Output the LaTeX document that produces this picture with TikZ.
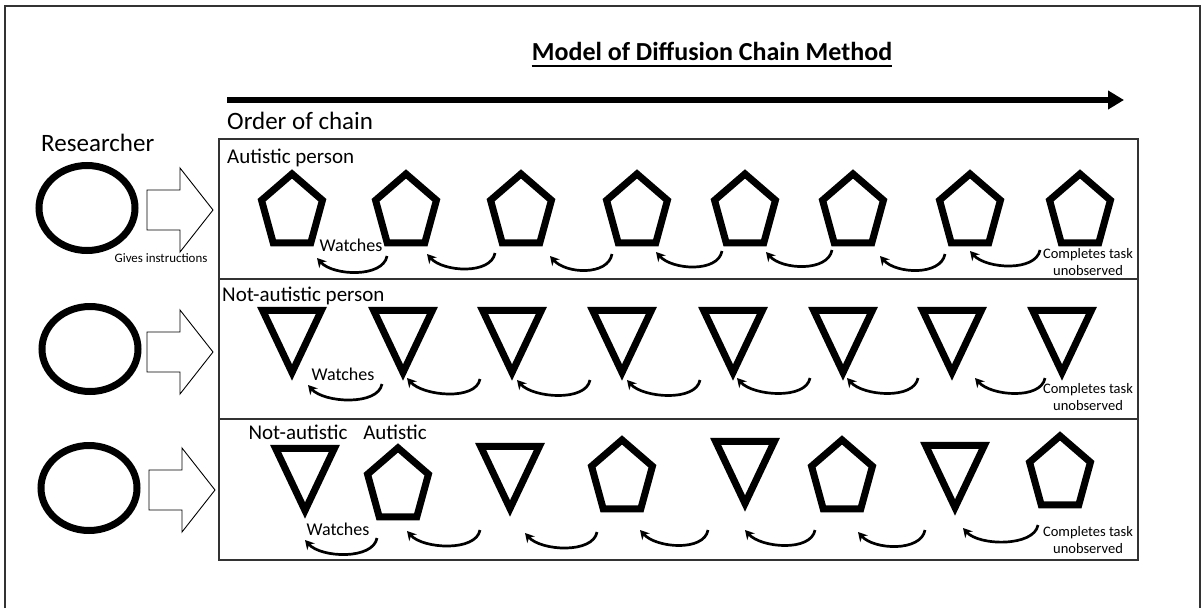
\documentclass[tikz,border=0pt]{standalone}
\usepackage{fontspec}
\setmainfont{Carlito}
\usetikzlibrary{arrows.meta,shapes.geometric}
\begin{document}
\begin{tikzpicture}[x=1pt,y=-1pt,
  frameline/.style={draw=black!80,line width=1.4pt},
  pent/.style={regular polygon, regular polygon sides=5, draw, line width=7pt, minimum size=64pt, inner sep=0pt, transform shape, yscale=1.19},
  tri/.style={regular polygon, regular polygon sides=3, shape border rotate=180, draw, line width=7pt, minimum size=68pt, inner sep=0pt, transform shape, yscale=1.22},
  person/.style={draw, line width=7pt, ellipse, minimum width=96pt, minimum height=85pt, inner sep=0pt},
  blockarrow/.style={draw, line width=0.9pt, line join=miter},
  watch/.style={line width=2.7pt, -{Stealth[length=9pt,width=10pt]}},
  lbl/.style={font=\fontsize{21}{24}\selectfont, inner sep=0pt},
  small/.style={font=\fontsize{14.5}{17.5}\selectfont, inner sep=0pt, align=center},
  wtxt/.style={font=\fontsize{18}{20}\selectfont, inner sep=0pt},
  bp/.pic={\path[blockarrow] (-66,-20) -- (-33,-20) -- (-33,-42) -- (0,0) -- (-33,42) -- (-33,20) -- (-66,20) -- cycle;}
]
\useasboundingbox (0,0) rectangle (1202,608);
\fill[white] (0,0) rectangle (1202,608);
% outer frame
\draw[frameline] (5,608) -- (5,6) -- (1200,6) -- (1200,608);
% title
\node[font=\bfseries\fontsize{26}{30}\selectfont, inner sep=0pt, anchor=base] (title) at (712,60) {Model of Diffusion Chain Method};
\draw[line width=2pt] ([yshift=-6pt]title.base west) -- ([yshift=-6pt]title.base east);
% order arrow
\coordinate (oa) at (227,100);
\coordinate (ob) at (1124,100);
\draw[line width=5.5pt, -{Triangle[length=16pt,width=18pt]}] (oa) -- (ob);
\node[font=\fontsize{25}{28}\selectfont, inner sep=0pt, anchor=base west] (order) at (227,129) {Order of chain};
\node[font=\fontsize{25}{28}\selectfont, inner sep=0pt, anchor=base west] (res) at (41,151) {Researcher};
% row boxes
\draw[frameline] (219,139) rectangle (1138,560);
\draw[frameline] (219,279) -- (1138,279);
\draw[frameline] (219,419) -- (1138,419);
% researchers
\node[person] (r1) at (87,208) {};
\node[person] (r2) at (90,349) {};
\node[person] (r3) at (89,488) {};
\pic at (213,210) {bp};
\pic at (213,352) {bp};
\pic at (215,490) {bp};
\node[font=\fontsize{12.9}{15}\selectfont, inner sep=0pt] (gi) at (161,258) {Gives instructions};
% labels
\node[lbl, anchor=west] (l1) at (227,158) {Autistic person};
\node[lbl, anchor=west] (l2) at (222,296) {Not-autistic person};
\node[lbl] (l3a) at (298,432) {Not-autistic};
\node[lbl] (l3b) at (395,432) {Autistic};
% row 1
\foreach \x [count=\i] in {292,406,521,637,745,853,970,1080}
  \node[pent] (a\i) at (\x,212) {};
% row 2
\foreach \x [count=\i] in {292,403,512,622,733,843,952,1062}
  \node[tri] (b\i) at (\x,331) {};
% row 3
\node[tri]  (c1) at (305,469) {};
\node[pent] (c2) at (398,486) {};
\node[tri]  (c3) at (510,467) {};
\node[pent] (c4) at (622,478) {};
\node[tri]  (c5) at (745,462) {};
\node[pent] (c6) at (842,478) {};
\node[tri]  (c7) at (955,466) {};
\node[pent] (c8) at (1060,474) {};
% watch arrows
\foreach \lx/\ly/\rx/\ry [count=\i] in {317/258/387/256, 427/254/495/253, 550/256/612/254, 656/252/722/251, 766/252/832/250, 880/256/945/254, 970/251/1040/250}{
  \coordinate (aL\i) at (\lx,\ly); \coordinate (aR\i) at (\rx,\ry);
  \draw[watch] (aR\i) .. controls +(-4,22) and +(16,18) .. (aL\i);}
\foreach \lx/\ly/\rx/\ry [count=\i] in {308/385/382/384, 407/378/480/379, 517/380/590/380, 627/380/700/380, 737/378/810/378, 847/378/918/378, 975/378/1045/378}{
  \coordinate (bL\i) at (\lx,\ly); \coordinate (bR\i) at (\rx,\ry);
  \draw[watch] (bR\i) .. controls +(-4,22) and +(16,18) .. (bL\i);}
\foreach \lx/\ly/\rx/\ry [count=\i] in {305/540/377/538, 407/531/480/530, 525/533/597/532, 640/530/708/530, 745/530/815/530, 858/532/925/530, 963/528/1038/525}{
  \coordinate (cL\i) at (\lx,\ly); \coordinate (cR\i) at (\rx,\ry);
  \draw[watch] (cR\i) .. controls +(-4,22) and +(16,18) .. (cL\i);}
% watches labels
\node[wtxt] (w1) at (351,245) {Watches};
\node[wtxt] (w2) at (343,374) {Watches};
\node[wtxt] (w3) at (338,529) {Watches};
% completes labels
\node[small] (e1) at (1088,262) {Completes task\\unobserved};
\node[small] (e2) at (1088,397) {Completes task\\unobserved};
\node[small] (e3) at (1088,540) {Completes task\\unobserved};
\end{tikzpicture}
\end{document}
